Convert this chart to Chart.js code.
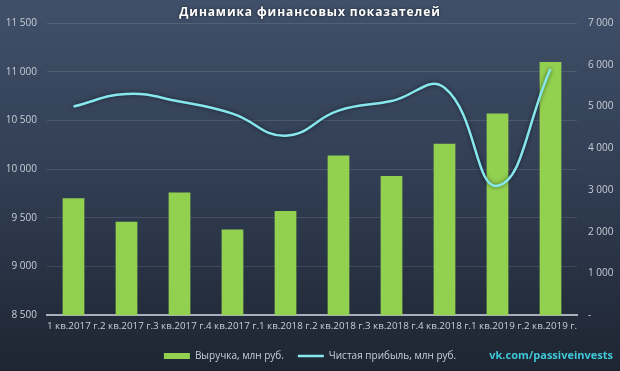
<!DOCTYPE html>
<html>
<head>
<meta charset="utf-8">
<script src="https://cdn.jsdelivr.net/npm/chart.js@4"></script>
<style>
  html, body { margin: 0; padding: 0; }
  body { width: 620px; height: 371px; background: linear-gradient(180deg, #405068 0%, #323f55 45%, #1e2532 100%); }
  #wrap { position: relative; width: 620px; height: 371px; }
</style>
</head>
<body>
<div id="wrap"><canvas id="chart" width="620" height="371"></canvas></div>
<script>
const quarters = ['1 кв.2017 г.', '2 кв.2017 г.', '3 кв.2017 г.', '4 кв.2017 г.', '1 кв.2018 г.',
                  '2 кв.2018 г.', '3 кв.2018 г.', '4 кв.2018 г.', '1 кв.2019 г.', '2 кв.2019 г.'];
const revenue = [9700, 9460, 9760, 9380, 9570, 10140, 9930, 10260, 10570, 11100];
const netProfit = [5000, 5300, 5120, 4830, 4300, 4900, 5130, 5450, 3100, 5900];

const leftTicks = { min: 8500, max: 11500, step: 500 };
const rightTicks = { min: 0, max: 7000, step: 1000 };

const tickColor = '#c9ced8';
const fmt = v => v === 0 ? '-' : v.toLocaleString('ru-RU').replace(/\u00a0/g, ' ');

// title + watermark drawn on the canvas
const extras = {
    id: 'extras',
    afterDraw(chart) {
        const ctx = chart.ctx;
        ctx.save();
        ctx.fillStyle = '#ffffff';
        ctx.font = 'bold 12px "Open Sans"';
        ctx.letterSpacing = '0.9px';
        ctx.textAlign = 'center';
        ctx.textBaseline = 'middle';
        ctx.shadowColor = 'rgba(0,0,0,0.6)';
        ctx.shadowBlur = 3;
        ctx.fillText('Динамика финансовых показателей', 310, 13);
        ctx.shadowBlur = 0;
        ctx.letterSpacing = '0px';
        ctx.fillStyle = '#3fc8d8';
        ctx.font = 'bold 11px "Open Sans"';
        ctx.textAlign = 'right';
        ctx.fillText('vk.com/passiveinvests', 613, 356);
        ctx.restore();
    },
    beforeDatasetDraw(chart, args) {
        if (args.meta.type === 'line') {
            chart.ctx.save();
            chart.ctx.shadowColor = 'rgba(0,0,0,0.55)';
            chart.ctx.shadowBlur = 4;
        }
    },
    afterDatasetDraw(chart, args) {
        if (args.meta.type === 'line') chart.ctx.restore();
    }
};

new Chart(document.getElementById('chart'), {
    data: {
        labels: quarters,
        datasets: [{
            type: 'bar',
            label: 'Выручка, млн руб.',
            data: revenue,
            yAxisID: 'y',
            backgroundColor: '#92d050',
            borderWidth: 0,
            barPercentage: 0.82,
            categoryPercentage: 0.5,
            order: 1
        }, {
            type: 'line',
            label: 'Чистая прибыль, млн руб.',
            data: netProfit,
            yAxisID: 'y1',
            borderColor: '#86e8ec',
            backgroundColor: '#86e8ec',
            borderWidth: 2.5,
            pointRadius: 0,
            tension: 0.45,
            order: 0
        }]
    },
    options: {
        responsive: false,
        animation: false,
        devicePixelRatio: 1,
        layout: { padding: { top: 23, left: 0, right: 0, bottom: 0 } },
        plugins: {
            tooltip: { enabled: false },
            legend: {
                position: 'bottom',
                labels: {
                    color: tickColor,
                    font: { family: 'Open Sans', size: 10 },
                    usePointStyle: true,
                    pointStyleWidth: 26,
                    boxHeight: 6,
                    padding: 14,
                    sort: (a, b) => a.datasetIndex - b.datasetIndex,
                    generateLabels(chart) {
                        return chart.data.datasets.map((ds, i) => ({
                            text: ds.label,
                            datasetIndex: i,
                            fillStyle: ds.type === 'bar' ? '#92d050' : '#86e8ec',
                            strokeStyle: ds.type === 'bar' ? '#92d050' : '#86e8ec',
                            lineWidth: ds.type === 'bar' ? 0 : 2.5,
                            pointStyle: ds.type === 'bar' ? 'rect' : 'line',
                            fontColor: tickColor
                        }));
                    }
                }
            }
        },
        scales: {
            x: {
                grid: { display: false, drawTicks: false },
                border: { color: '#a9b0bc', width: 2 },
                ticks: {
                    color: tickColor,
                    font: { family: 'Open Sans', size: 9.8 },
                    maxRotation: 0,
                    autoSkip: false,
                    padding: 5
                }
            },
            y: {
                position: 'left',
                min: leftTicks.min,
                max: leftTicks.max,
                afterFit(scale) { scale.width = 47; },
                grid: { color: 'rgba(255,255,255,0.11)', drawTicks: false },
                border: { display: false },
                ticks: {
                    stepSize: leftTicks.step,
                    color: tickColor,
                    font: { family: 'Open Sans', size: 10 },
                    padding: 10,
                    callback: fmt
                }
            },
            y1: {
                position: 'right',
                min: rightTicks.min,
                max: rightTicks.max,
                afterFit(scale) { scale.width = 43; },
                grid: { display: false, drawTicks: false },
                border: { display: false },
                ticks: {
                    stepSize: rightTicks.step,
                    color: tickColor,
                    font: { family: 'Open Sans', size: 10 },
                    padding: 11,
                    callback: fmt
                }
            }
        }
    },
    plugins: [extras]
});
</script>
</body>
</html>
